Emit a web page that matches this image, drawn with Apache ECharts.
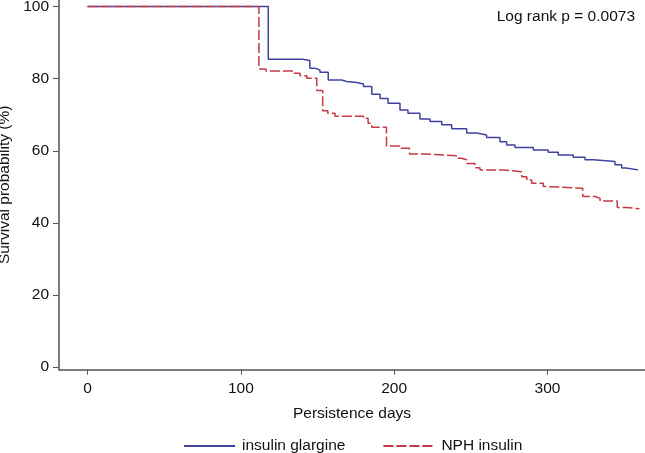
<!DOCTYPE html>
<html>
<head>
<meta charset="utf-8">
<script src="https://cdn.jsdelivr.net/npm/echarts@6/dist/echarts.min.js"></script>
<style>
html,body{margin:0;padding:0;background:#fff;}
#chart{width:645px;height:453px;}
</style>
</head>
<body>
<div id="chart"></div>
<script>
// Kaplan-Meier step data (days, survival %)
var glargineDays = [0, 117.9, 140.3, 145, 148.4, 151.6, 157, 165.8, 169, 175.6, 180, 185.4, 190.8, 196, 203.8, 209, 216.8, 223.4, 231, 237.5, 247.3, 253.8, 260.3, 269, 273.4, 278.8, 290.8, 300.5, 307, 316.8, 324.5, 330, 344, 348.4, 351.2, 359.2];
var glargineSurv = [100, 85.4, 85.0, 82.9, 82.4, 81.8, 79.6, 79.2, 78.9, 78.5, 77.8, 75.7, 74.5, 73.2, 71.3, 70.4, 68.8, 68.1, 67.2, 66.1, 64.9, 64.4, 63.7, 62.5, 61.6, 60.9, 60.2, 59.6, 58.8, 58.2, 57.5, 57.0, 56.1, 55.2, 54.7, 54.7];
var nphDays = [0, 111.8, 116.4, 134.2, 138.6, 143, 149.5, 153.4, 156.7, 161.4, 180, 183, 185.4, 195, 203.8, 210, 220, 241.8, 244, 247.3, 252.7, 256, 271.2, 283.2, 286.5, 289.7, 297.3, 299, 323, 331, 334.3, 345.5, 351.7, 360];
var nphSurv = [100, 82.7, 82.1, 81.5, 80.8, 80.1, 76.7, 71.1, 70.4, 69.6, 69.0, 67.6, 66.5, 61.3, 60.7, 59.1, 58.6, 57.9, 57.5, 56.5, 55.3, 54.7, 54.2, 52.8, 51.9, 51.0, 50.1, 49.6, 47.3, 46.8, 46.1, 44.3, 43.9, 43.9];
var xTicks = [0, 100, 200, 300];
var yTicks = [0, 20, 40, 60, 80, 100];
var seriesNames = ['insulin glargine', 'NPH insulin'];
var xTitle = 'Persistence days';
var yTitle = 'Survival probability (%)';
var annotation = 'Log rank p = 0.0073';

function pairs(xs, ys) { return xs.map(function (x, i) { return [x, ys[i]]; }); }

var FONT = '"Liberation Sans", Arial, Helvetica, sans-serif';
var AX = '#555555';
var chart = echarts.init(document.getElementById('chart'), null, {renderer: 'canvas'});
chart.setOption({
  animation: false,
  backgroundColor: '#ffffff',
  textStyle: {fontFamily: FONT},
  grid: {left: 59, right: 0, top: 0, bottom: 83.3, containLabel: false, outerBoundsMode: 'none'},
  xAxis: {
    type: 'value', min: -18.6, max: 363.6,
    name: xTitle, nameLocation: 'middle', nameGap: 36,
    nameTextStyle: {fontSize: 15.5, color: '#111', fontFamily: FONT},
    axisLine: {onZero: false, lineStyle: {color: AX, width: 1.5}},
    axisTick: {customValues: xTicks, length: 5, lineStyle: {color: AX, width: 1}},
    axisLabel: {customValues: xTicks, margin: 11, fontSize: 15.5, color: '#111', fontFamily: FONT},
    splitLine: {show: false}
  },
  yAxis: {
    type: 'value', min: -0.7, max: 101.8,
    name: yTitle, nameLocation: 'middle', nameGap: 41, nameRotate: 90,
    nameTextStyle: {fontSize: 15.5, color: '#111', fontFamily: FONT},
    axisLine: {show: true, onZero: false, lineStyle: {color: AX, width: 1.5}},
    axisTick: {show: true, customValues: yTicks, length: 6, lineStyle: {color: AX, width: 1}},
    axisLabel: {customValues: yTicks, margin: 10, fontSize: 15.5, color: '#111', fontFamily: FONT},
    splitLine: {show: false}
  },
  legend: {
    left: 178, top: 433, itemWidth: 51, itemHeight: 14, itemGap: 37,
    itemStyle: {color: 'rgba(0,0,0,0)', borderWidth: 0, opacity: 0},
    textStyle: {fontSize: 15.5, color: '#111', fontFamily: FONT, padding: [0, 0, 0, 2]},
    data: seriesNames
  },
  graphic: [{
    type: 'text', right: 10, top: 9,
    style: {text: annotation, font: '15.5px ' + FONT, fill: '#111'}
  }],
  series: [
    {name: seriesNames[0], type: 'line', step: 'end', symbol: 'none',
     lineStyle: {color: '#4042a0', width: 1.5}, itemStyle: {color: '#4042a0'},
     data: pairs(glargineDays, glargineSurv)},
    {name: seriesNames[1], type: 'line', step: 'end', symbol: 'none',
     lineStyle: {color: '#c23b45', width: 1.5, type: [10, 3]}, itemStyle: {color: '#c23b45'},
     data: pairs(nphDays, nphSurv)}
  ]
});
</script>
</body>
</html>
